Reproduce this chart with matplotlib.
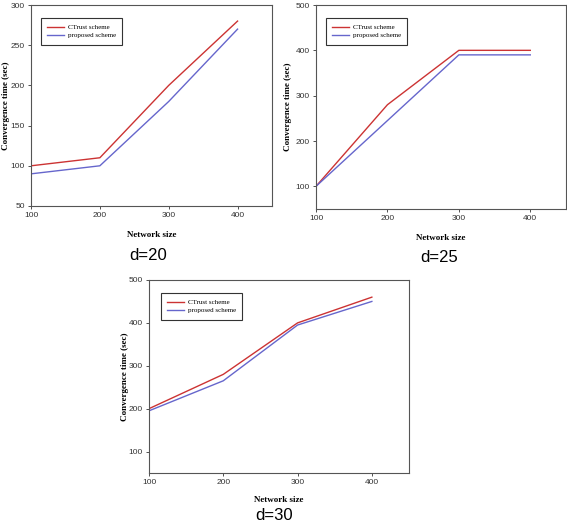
import matplotlib.pyplot as plt

network_size = [100, 200, 300, 400]

ctrust_d20 = [100, 110, 200, 280]
proposed_d20 = [90, 100, 180, 270]

ctrust_d25 = [100, 280, 400, 400]
proposed_d25 = [100, 245, 390, 390]

ctrust_d30 = [200, 280, 400, 460]
proposed_d30 = [195, 265, 395, 450]

serif = 'Liberation Serif'
sans = 'Liberation Sans'

W, H = 567, 524
fig = plt.figure(figsize=(W / 100, H / 100), dpi=100)


def add_plot(box, ctrust, proposed, ylim, yticks, caption, cap_xy, ylab_dx, xlab_dy, leg_off):
    # box = left, top, right, bottom in pixels
    l, t, r, b = box
    ax = fig.add_axes([l / W, 1 - b / H, (r - l) / W, (b - t) / H])
    ax.plot(network_size, ctrust, color='#cc3333', lw=1.0, label='CTrust scheme')
    ax.plot(network_size, proposed, color='#6666cc', lw=1.0, label='proposed scheme')
    ax.set_xlim(100, 450)
    ax.set_ylim(*ylim)
    ax.set_xticks(network_size)
    ax.set_yticks(yticks)
    for s in ax.spines.values():
        s.set_color('#555555')
        s.set_linewidth(0.8)
    ax.tick_params(labelsize=6, length=2.5, width=0.6, colors='#333333', pad=2)
    for lab in ax.get_xticklabels() + ax.get_yticklabels():
        lab.set_family(sans)
    ax.set_xlabel('Network size', family=serif, fontweight='bold', fontsize=6.5)
    ax.set_ylabel('Convergence time (sec)', family=serif, fontweight='bold', fontsize=6.5)
    ax.xaxis.set_label_coords(0.5, -xlab_dy / (b - t))
    ax.yaxis.set_label_coords(-ylab_dx / (r - l), 0.5)
    leg = ax.legend(loc='upper left',
                    bbox_to_anchor=(leg_off[0] / (r - l), 1 - leg_off[1] / (b - t)),
                    borderaxespad=0, prop={'family': serif, 'size': 5},
                    fancybox=False, framealpha=1, edgecolor='#333333', handlelength=2.4,
                    borderpad=0.9, labelspacing=0.35, handletextpad=0.6)
    leg.get_frame().set_linewidth(0.8)
    fig.text(cap_xy[0] / W, 1 - cap_xy[1] / H, caption, family=sans, fontsize=12,
             ha='center', va='center')
    return ax


add_plot((31, 5, 272, 206), ctrust_d20, proposed_d20,
         (50, 300), [50, 100, 150, 200, 250, 300], 'd=20', (148, 255), 21, 25, (10, 13))
add_plot((316, 5, 566, 209), ctrust_d25, proposed_d25,
         (50, 500), [100, 200, 300, 400, 500], 'd=25', (439, 257), 24, 25, (10, 13))
add_plot((149, 280, 409, 473), ctrust_d30, proposed_d30,
         (50, 500), [100, 200, 300, 400, 500], 'd=30', (274, 516), 20, 23, (12, 13))

fig.savefig('out.png', dpi=100)
